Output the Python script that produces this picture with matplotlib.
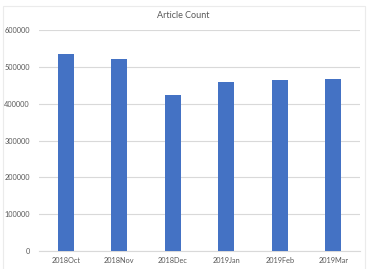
"""
Article count per month, Excel-style column chart.
"""

import matplotlib

matplotlib.use("Agg")
import matplotlib.pyplot as plt
from matplotlib.patches import Rectangle

MONTHS = ["2018Oct", "2018Nov", "2018Dec", "2019Jan", "2019Feb", "2019Mar"]
ARTICLE_COUNTS = [535000, 520000, 423000, 459000, 465000, 467000]
Y_TICKS = [0, 100000, 200000, 300000, 400000, 500000, 600000]

BAR_COLOR = "#4472C4"
GRID_COLOR = "#D9D9D9"
TEXT_COLOR = "#595959"

plt.rcParams["font.family"] = ["Lato", "DejaVu Sans"]

fig = plt.figure(figsize=(3.67, 2.69), dpi=100)
ax = fig.add_axes([39 / 367, 1 - 251 / 269, 321 / 367, 221 / 269])

# chart border like an Excel chart area
fig.patches.append(
    Rectangle((3 / 367, -0.05), 362 / 367, 1.05 - 6 / 269,
              transform=fig.transFigure, fill=False,
              edgecolor="#EBEBEB", linewidth=0.8)
)

x = range(len(MONTHS))
ax.bar(x, ARTICLE_COUNTS, width=0.3, color=BAR_COLOR, zorder=3)

ax.set_xlim(-0.5, len(MONTHS) - 0.5)
ax.set_ylim(0, 600000)
ax.set_yticks(Y_TICKS)
ax.set_yticklabels([str(v) for v in Y_TICKS])
ax.set_xticks(list(x))
ax.set_xticklabels(MONTHS)

ax.grid(axis="y", color=GRID_COLOR, linewidth=0.8, zorder=0)
for side in ["top", "right", "left"]:
    ax.spines[side].set_visible(False)
ax.spines["bottom"].set_color(GRID_COLOR)
ax.spines["bottom"].set_linewidth(0.8)

ax.tick_params(axis="both", length=0, labelsize=5.3, colors=TEXT_COLOR, pad=4)
ax.tick_params(axis="y", pad=6.5)

fig.text(0.5, 1 - 16 / 269, "Article Count", ha="center", va="center",
         fontsize=6.5, color=TEXT_COLOR)

fig.savefig("out.png", dpi=100)
plt.close(fig)
